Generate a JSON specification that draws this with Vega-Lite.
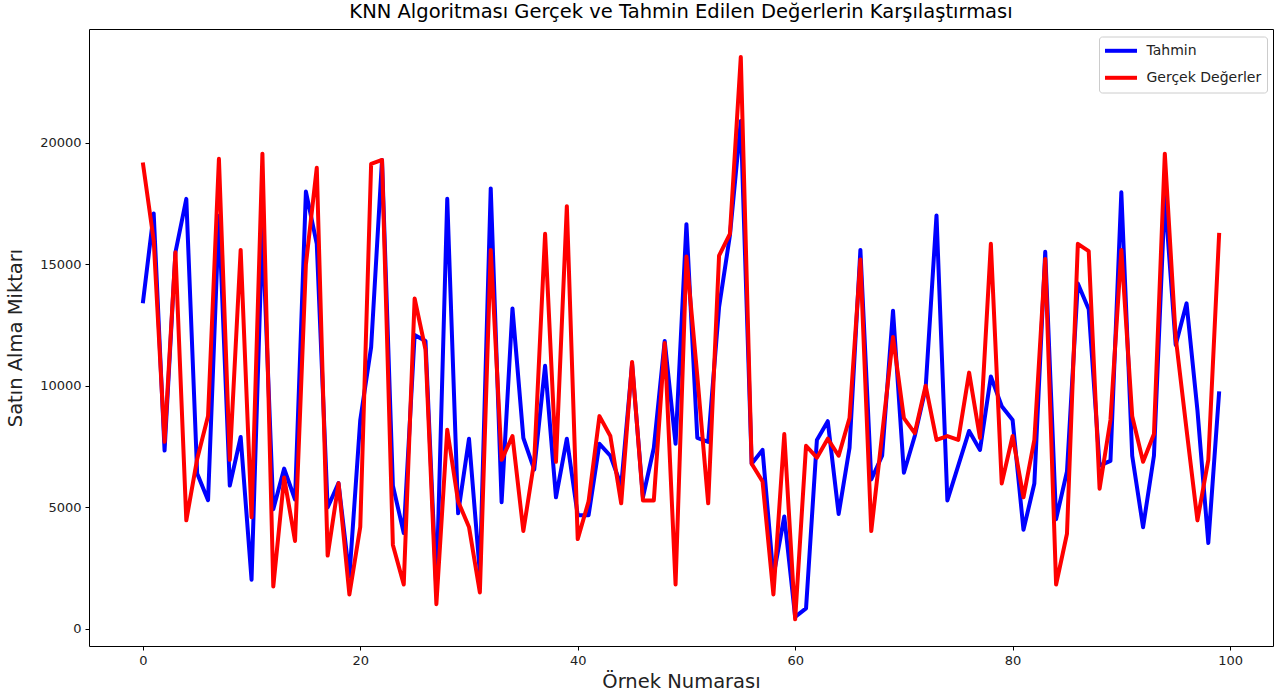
{
  "$schema": "https://vega.github.io/schema/vega-lite/v6.json",
  "width": 1184,
  "height": 617,
  "autosize": "none",
  "padding": {"left": 89, "top": 29, "right": 6, "bottom": 54},
  "background": "white",
  "title": {"text": "KNN Algoritması Gerçek ve Tahmin Edilen Değerlerin Karşılaştırması", "fontSize": 19.5, "font": "DejaVu Sans", "fontWeight": "normal", "color": "black", "offset": 7, "anchor": "middle"},
  "config": {
    "view": {"stroke": "black", "strokeWidth": 1},
    "axis": {"domain": false, "grid": false, "tickColor": "black", "tickSize": 4, "labelFont": "DejaVu Sans", "labelFontSize": 13, "labelColor": "#222", "labelPadding": 4, "titleFont": "DejaVu Sans", "titleFontSize": 19.5, "titleFontWeight": "normal", "titleColor": "#222"}
  },
  "data": {"values": [
    {"i": 0, "Tahmin": 13400, "Gerçek Değerler": 19200},
    {"i": 1, "Tahmin": 17100, "Gerçek Değerler": 16000},
    {"i": 2, "Tahmin": 7340, "Gerçek Değerler": 7700},
    {"i": 3, "Tahmin": 15500, "Gerçek Değerler": 15500},
    {"i": 4, "Tahmin": 17700, "Gerçek Değerler": 4470},
    {"i": 5, "Tahmin": 6400, "Gerçek Değerler": 7000},
    {"i": 6, "Tahmin": 5300, "Gerçek Değerler": 8760},
    {"i": 7, "Tahmin": 17000, "Gerçek Değerler": 19350},
    {"i": 8, "Tahmin": 5900, "Gerçek Değerler": 6960},
    {"i": 9, "Tahmin": 7900, "Gerçek Değerler": 15600},
    {"i": 10, "Tahmin": 2030, "Gerçek Değerler": 4600},
    {"i": 11, "Tahmin": 16500, "Gerçek Değerler": 19560},
    {"i": 12, "Tahmin": 4930, "Gerçek Değerler": 1750},
    {"i": 13, "Tahmin": 6600, "Gerçek Değerler": 6230},
    {"i": 14, "Tahmin": 5330, "Gerçek Değerler": 3620},
    {"i": 15, "Tahmin": 18000, "Gerçek Değerler": 15000},
    {"i": 16, "Tahmin": 15850, "Gerçek Değerler": 18980},
    {"i": 17, "Tahmin": 5000, "Gerçek Değerler": 3020},
    {"i": 18, "Tahmin": 6000, "Gerçek Değerler": 6000},
    {"i": 19, "Tahmin": 2160, "Gerçek Değerler": 1420},
    {"i": 20, "Tahmin": 8600, "Gerçek Değerler": 4200},
    {"i": 21, "Tahmin": 11600, "Gerçek Değerler": 19140},
    {"i": 22, "Tahmin": 19300, "Gerçek Değerler": 19300},
    {"i": 23, "Tahmin": 5900, "Gerçek Değerler": 3460},
    {"i": 24, "Tahmin": 3950, "Gerçek Değerler": 1830},
    {"i": 25, "Tahmin": 12100, "Gerçek Değerler": 13600},
    {"i": 26, "Tahmin": 11850, "Gerçek Değerler": 11500},
    {"i": 27, "Tahmin": 1600, "Gerçek Değerler": 1020},
    {"i": 28, "Tahmin": 17700, "Gerçek Değerler": 8200},
    {"i": 29, "Tahmin": 4760, "Gerçek Değerler": 5250},
    {"i": 30, "Tahmin": 7830, "Gerçek Değerler": 4200},
    {"i": 31, "Tahmin": 2300, "Gerçek Değerler": 1500},
    {"i": 32, "Tahmin": 18130, "Gerçek Değerler": 15600},
    {"i": 33, "Tahmin": 5220, "Gerçek Değerler": 6960},
    {"i": 34, "Tahmin": 13190, "Gerçek Değerler": 7940},
    {"i": 35, "Tahmin": 7860, "Gerçek Değerler": 4030},
    {"i": 36, "Tahmin": 6560, "Gerçek Değerler": 6900},
    {"i": 37, "Tahmin": 10830, "Gerçek Değerler": 16260},
    {"i": 38, "Tahmin": 5420, "Gerçek Değerler": 6880},
    {"i": 39, "Tahmin": 7830, "Gerçek Değerler": 17400},
    {"i": 40, "Tahmin": 4680, "Gerçek Değerler": 3700},
    {"i": 41, "Tahmin": 4680, "Gerçek Değerler": 5250},
    {"i": 42, "Tahmin": 7620, "Gerçek Değerler": 8760},
    {"i": 43, "Tahmin": 7130, "Gerçek Değerler": 7940},
    {"i": 44, "Tahmin": 5900, "Gerçek Değerler": 5170},
    {"i": 45, "Tahmin": 10900, "Gerçek Değerler": 10990},
    {"i": 46, "Tahmin": 5420, "Gerçek Değerler": 5290},
    {"i": 47, "Tahmin": 7450, "Gerçek Değerler": 5290},
    {"i": 48, "Tahmin": 11850, "Gerçek Değerler": 11770},
    {"i": 49, "Tahmin": 7620, "Gerçek Değerler": 1830},
    {"i": 50, "Tahmin": 16660, "Gerçek Değerler": 15330},
    {"i": 51, "Tahmin": 7860, "Gerçek Değerler": 10400},
    {"i": 52, "Tahmin": 7700, "Gerçek Değerler": 5170},
    {"i": 53, "Tahmin": 13240, "Gerçek Değerler": 15360},
    {"i": 54, "Tahmin": 16200, "Gerçek Değerler": 16260},
    {"i": 55, "Tahmin": 20900, "Gerçek Değerler": 23540},
    {"i": 56, "Tahmin": 6800, "Gerçek Değerler": 6800},
    {"i": 57, "Tahmin": 7370, "Gerçek Değerler": 6070},
    {"i": 58, "Tahmin": 2160, "Gerçek Değerler": 1420},
    {"i": 59, "Tahmin": 4630, "Gerçek Değerler": 8020},
    {"i": 60, "Tahmin": 500, "Gerçek Değerler": 400},
    {"i": 61, "Tahmin": 850, "Gerçek Değerler": 7540},
    {"i": 62, "Tahmin": 7780, "Gerçek Değerler": 7050},
    {"i": 63, "Tahmin": 8550, "Gerçek Değerler": 7830},
    {"i": 64, "Tahmin": 4730, "Gerçek Değerler": 7130},
    {"i": 65, "Tahmin": 7450, "Gerçek Değerler": 8680},
    {"i": 66, "Tahmin": 15600, "Gerçek Değerler": 15200},
    {"i": 67, "Tahmin": 6150, "Gerçek Değerler": 4030},
    {"i": 68, "Tahmin": 7130, "Gerçek Değerler": 8000},
    {"i": 69, "Tahmin": 13100, "Gerçek Değerler": 12020},
    {"i": 70, "Tahmin": 6430, "Gerçek Değerler": 8680},
    {"i": 71, "Tahmin": 7940, "Gerçek Değerler": 8060},
    {"i": 72, "Tahmin": 9900, "Gerçek Değerler": 10010},
    {"i": 73, "Tahmin": 17020, "Gerçek Değerler": 7780},
    {"i": 74, "Tahmin": 5290, "Gerçek Değerler": 7940},
    {"i": 75, "Tahmin": 6720, "Gerçek Değerler": 7780},
    {"i": 76, "Tahmin": 8150, "Gerçek Değerler": 10550},
    {"i": 77, "Tahmin": 7370, "Gerçek Değerler": 7860},
    {"i": 78, "Tahmin": 10390, "Gerçek Değerler": 15850},
    {"i": 79, "Tahmin": 9170, "Gerçek Değerler": 5990},
    {"i": 80, "Tahmin": 8600, "Gerçek Değerler": 7940},
    {"i": 81, "Tahmin": 4080, "Gerçek Değerler": 5420},
    {"i": 82, "Tahmin": 5990, "Gerçek Değerler": 7780},
    {"i": 83, "Tahmin": 15520, "Gerçek Değerler": 15230},
    {"i": 84, "Tahmin": 4520, "Gerçek Değerler": 1830},
    {"i": 85, "Tahmin": 6480, "Gerçek Değerler": 3920},
    {"i": 86, "Tahmin": 14220, "Gerçek Değerler": 15850},
    {"i": 87, "Tahmin": 13160, "Gerçek Değerler": 15550},
    {"i": 88, "Tahmin": 6720, "Gerçek Değerler": 5770},
    {"i": 89, "Tahmin": 6920, "Gerçek Değerler": 8600},
    {"i": 90, "Tahmin": 17970, "Gerçek Değerler": 15600},
    {"i": 91, "Tahmin": 7130, "Gerçek Değerler": 8760},
    {"i": 92, "Tahmin": 4190, "Gerçek Değerler": 6880},
    {"i": 93, "Tahmin": 7130, "Gerçek Değerler": 8020},
    {"i": 94, "Tahmin": 17800, "Gerçek Değerler": 19560},
    {"i": 95, "Tahmin": 11690, "Gerçek Değerler": 12000},
    {"i": 96, "Tahmin": 13400, "Gerçek Değerler": 8200},
    {"i": 97, "Tahmin": 9000, "Gerçek Değerler": 4470},
    {"i": 98, "Tahmin": 3540, "Gerçek Değerler": 6960},
    {"i": 99, "Tahmin": 9780, "Gerçek Değerler": 16300}
  ]},
  "transform": [{"fold": ["Tahmin", "Gerçek Değerler"], "as": ["seri", "deger"]}],
  "mark": {"type": "line", "strokeWidth": 4, "strokeJoin": "round"},
  "encoding": {
    "x": {"field": "i", "type": "quantitative", "scale": {"domain": [-4.95, 103.95], "nice": false, "zero": false}, "axis": {"values": [0, 20, 40, 60, 80, 100], "title": "Örnek Numarası", "titlePadding": 5}},
    "y": {"field": "deger", "type": "quantitative", "scale": {"domain": [-700, 24690], "nice": false, "zero": false}, "axis": {"values": [0, 5000, 10000, 15000, 20000], "format": "d", "title": "Satın Alma Miktarı", "titlePadding": 14}},
    "color": {"field": "seri", "type": "nominal", "scale": {"domain": ["Tahmin", "Gerçek Değerler"], "range": ["#0000ff", "#ff0000"]}, "legend": {"title": null, "orient": "none", "legendX": 1010, "legendY": 7.5, "symbolType": "M-2.46,0H2.46", "symbolSize": 169, "symbolStrokeWidth": 4, "symbolOffset": 7.7, "labelOffset": 17, "labelFont": "DejaVu Sans", "labelFontSize": 14, "labelColor": "#222", "fillColor": "white", "strokeColor": "#cccccc", "padding": 5.8, "cornerRadius": 3, "rowPadding": 10}}
  }
}
